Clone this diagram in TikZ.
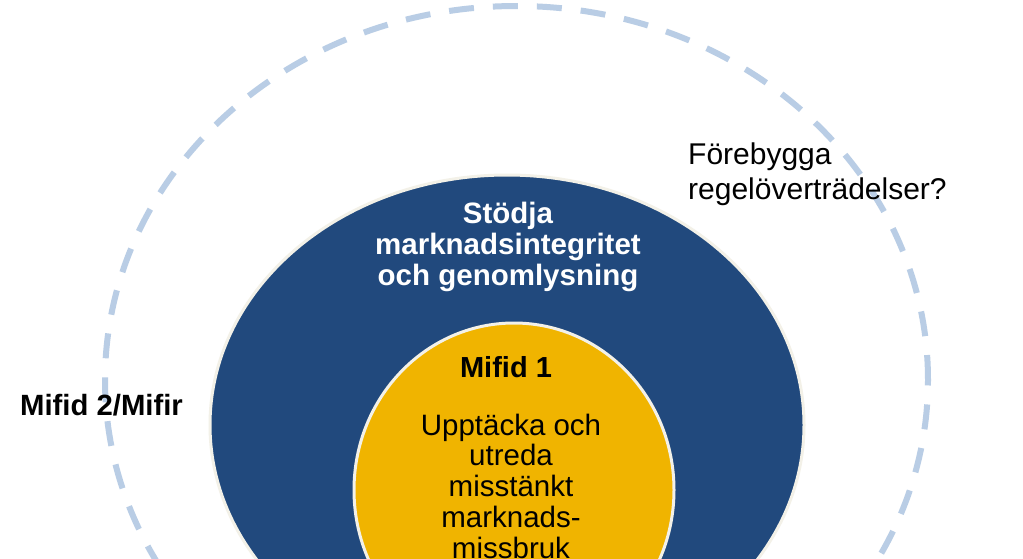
\documentclass[tikz,border=0pt]{standalone}
\usepackage{fontspec}
\setmainfont{Liberation Sans}
\usetikzlibrary{shapes.geometric}
\definecolor{ringblue}{RGB}{33,73,125}
\definecolor{coreyellow}{RGB}{240,180,0}
\definecolor{dashblue}{RGB}{185,205,229}
\definecolor{rim}{RGB}{243,241,232}
\tikzset{
  dashring/.style={ellipse, draw=dashblue, line width=6pt, dash pattern=on 25pt off 19pt, inner sep=0pt},
  bluering/.style={ellipse, fill=ringblue, draw=rim, line width=3pt, inner sep=0pt},
  yellowcore/.style={ellipse, fill=coreyellow, draw=rim, line width=3pt, inner sep=0pt},
  txt/.style={inner sep=0pt, align=center, font=\fontsize{29.5}{31}\selectfont},
}
\begin{document}
\begin{tikzpicture}[x=1pt,y=-1pt]
\useasboundingbox[fill=white] (0,0) rectangle (1023,558);
\node[dashring, minimum width=823pt, minimum height=748pt] (outer) at (516.5,380) {};
\node[bluering, minimum width=594pt, minimum height=500pt] (blue) at (507,425) {};
\node[yellowcore, minimum width=320pt, minimum height=334pt] (core) at (514,490) {};
\node[txt, text=white, font=\fontsize{29.5}{31}\selectfont\bfseries] (stodja) at (508,247) {Stödja\\marknadsintegritet\\och genomlysning};
\node[txt, font=\fontsize{29}{31}\selectfont\bfseries] (mifid1) at (506,367) {Mifid 1};
\node[txt, font=\fontsize{29.5}{30.75}\selectfont] (upptacka) at (511,486) {Upptäcka och\\utreda\\misstänkt\\marknads-\\missbruk};
\node[txt, font=\fontsize{29.3}{31}\selectfont\bfseries] (mifid2) at (101.5,405) {Mifid 2/Mifir};
\node[txt, align=left, anchor=west, font=\fontsize{30}{35}\selectfont] (forebygga) at (688,174) {Förebygga\\regelöverträdelser?};
\end{tikzpicture}
\end{document}
